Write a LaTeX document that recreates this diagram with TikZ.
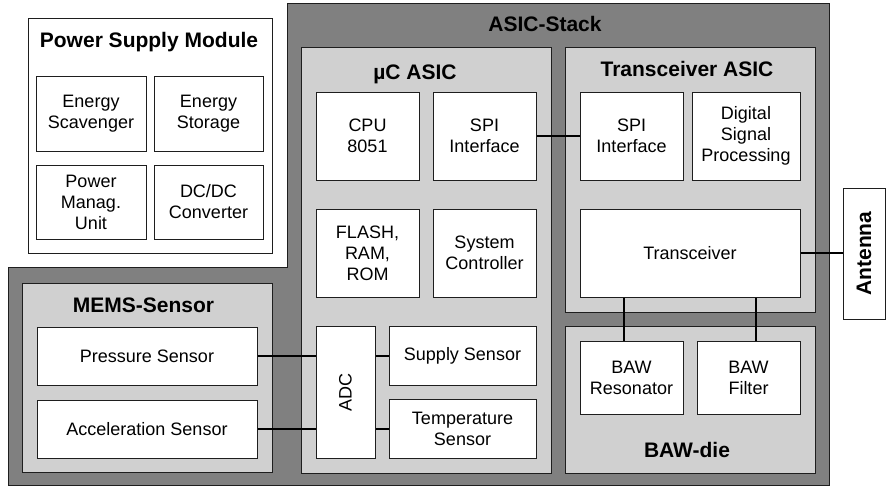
\documentclass[tikz,border=0pt]{standalone}
\usepackage{fontspec}
\setmainfont{Liberation Sans}
\definecolor{dgray}{RGB}{128,128,128}
\definecolor{lgray}{RGB}{208,208,208}
\definecolor{edge}{RGB}{30,30,30}
\tikzset{
  every node/.style={font=\fontsize{18}{21}\selectfont, text=black},
  wbox/.style={draw=edge, line width=1pt, fill=white, align=center, inner sep=0pt},
  gbox/.style={draw=edge, line width=1pt, fill=lgray, inner sep=0pt},
  ttl/.style={font=\fontsize{21}{24}\selectfont\bfseries, anchor=base, inner sep=0pt},
  wire/.style={draw=black, line width=1.6pt}
}
\begin{document}
\begin{tikzpicture}[x=1pt,y=-1pt]
\useasboundingbox (0,0) rectangle (886,487);
% ASIC stack outline
\draw[draw=edge, line width=1pt, fill=dgray] (8,267) -- (287,267) -- (287,4) -- (829,4) -- (829,485) -- (8,485) -- cycle;
\node[ttl] (stackt) at (545,32) {ASIC-Stack};
% power supply module
\node[wbox, minimum width=244, minimum height=234] (psm) at (150,136) {};
\node[ttl] (psmt) at (149,48) {Power Supply Module};
\node[wbox, minimum width=110, minimum height=74] (es) at (91,114) {Energy\\Scavenger};
\node[wbox, minimum width=109, minimum height=74] (est) at (208.5,114) {Energy\\Storage};
\node[wbox, minimum width=110, minimum height=74] (pmu) at (91,202) {Power\\Manag.\\Unit};
\node[wbox, minimum width=109, minimum height=74] (dcdc) at (208.5,202) {DC/DC\\Converter};
% uC ASIC
\node[gbox, minimum width=250, minimum height=425] (uc) at (426,260.5) {};
\node[ttl] (uct) at (415,80) {µC ASIC};
\node[wbox, minimum width=103, minimum height=88] (cpu) at (367.5,136) {CPU\\8051};
\node[wbox, minimum width=103, minimum height=88] (spi1) at (484.5,136) {SPI\\Interface};
\node[wbox, minimum width=103, minimum height=88] (mem) at (367.5,253) {FLASH,\\RAM,\\ROM};
\node[wbox, minimum width=103, minimum height=88] (sysc) at (484.5,253) {System\\Controller};
\node[wbox, minimum width=59, minimum height=132] (adc) at (345.5,392) {};
\node[rotate=90] (adct) at (adc.center) {ADC};
\node[wbox, minimum width=147, minimum height=59] (sup) at (462.5,356) {Supply Sensor};
\node[wbox, minimum width=147, minimum height=59] (temp) at (462.5,429) {Temperature\\Sensor};
% Transceiver ASIC
\node[gbox, minimum width=250, minimum height=264] (tx) at (690,180) {};
\node[ttl] (txt) at (687,77) {Transceiver ASIC};
\node[wbox, minimum width=103, minimum height=88] (spi2) at (631.5,136) {SPI\\Interface};
\node[wbox, minimum width=108, minimum height=88] (dsp) at (746,136) {Digital\\Signal\\Processing};
\node[wbox, minimum width=220, minimum height=88] (trx) at (690,253) {Transceiver};
% BAW die
\node[gbox, minimum width=250, minimum height=147] (baw) at (690,399.5) {};
\node[ttl] (bawt) at (687,457) {BAW-die};
\node[wbox, minimum width=103, minimum height=73] (bres) at (631.5,377.5) {BAW\\Resonator};
\node[wbox, minimum width=103, minimum height=73] (bfil) at (748.5,377.5) {BAW\\Filter};
% MEMS sensor
\node[gbox, minimum width=250, minimum height=189] (mems) at (147,377.5) {};
\node[ttl] (memst) at (143.5,312) {MEMS-Sensor};
\node[wbox, minimum width=220, minimum height=58] (ps) at (147,356) {Pressure Sensor};
\node[wbox, minimum width=220, minimum height=58] (acc) at (147,429) {Acceleration Sensor};
% Antenna
\node[wbox, minimum width=42, minimum height=131] (ant) at (864,253.5) {};
\node[rotate=90, font=\fontsize{21}{24}\selectfont\bfseries] (antt) at (ant.center) {Antenna};
% connectors
\draw[wire] (ps.east) -- (ps.east -| adc.west);
\draw[wire] (acc.east) -- (acc.east -| adc.west);
\draw[wire] (sup.west) -- (sup.west -| adc.east);
\draw[wire] (temp.west) -- (temp.west -| adc.east);
\draw[wire] (spi1.east) -- (spi2.west);
\draw[wire] (trx.east) -- (trx.east -| ant.west);
\draw[wire] ([xshift=-7.5pt]bres.north) -- ([xshift=-7.5pt]bres.north |- trx.south);
\draw[wire] ([xshift=7.5pt]bfil.north) -- ([xshift=7.5pt]bfil.north |- trx.south);
\end{tikzpicture}
\end{document}
